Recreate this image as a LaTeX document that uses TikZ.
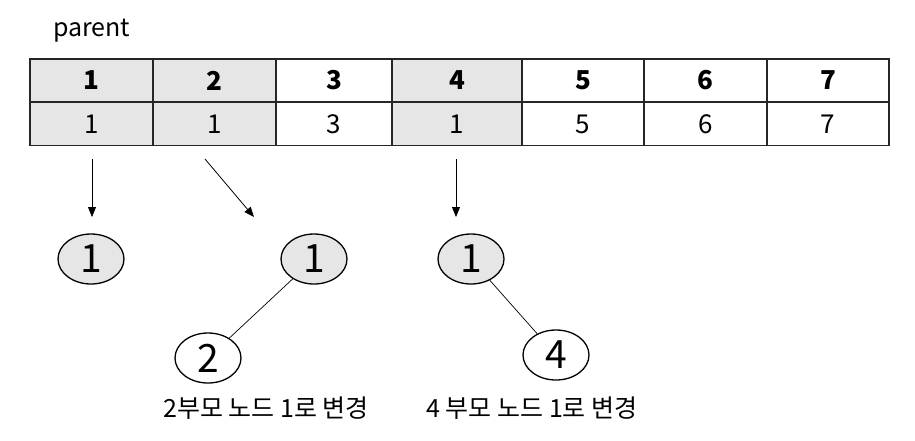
\documentclass[tikz,border=0pt]{standalone}
\usepackage{fontspec}
\setmainfont{Noto Sans CJK KR}
\usetikzlibrary{arrows.meta,shapes.geometric}
\definecolor{cellgray}{HTML}{E6E6E6}
\tikzset{
  cell/.style={draw=black!85, line width=1.3pt, minimum height=43pt, inner sep=0pt, font=\fontsize{26}{30}\selectfont},
  hcell/.style={cell, font=\fontsize{26}{30}\selectfont\bfseries},
  nd/.style={draw=black, line width=1.3pt, ellipse, minimum width=66pt, minimum height=50pt, inner sep=0pt, font=\fontsize{39}{42}\selectfont},
  ptr/.style={line width=0.8pt, -{Triangle[length=10pt,width=8pt]}},
  edge/.style={line width=0.7pt},
  lbl/.style={inner sep=0pt, font=\fontsize{25}{28}\selectfont}
}
\begin{document}
\begin{tikzpicture}[x=1pt,y=-1pt]
\useasboundingbox (0,0) rectangle (915,440);
\node[lbl, anchor=west, font=\fontsize{25}{28}\selectfont] (title) at (53,31) {parent};
% header row
\node[hcell, fill=cellgray, minimum width=123pt] (h1) at (91.5,80.5) {1};
\node[hcell, fill=cellgray, minimum width=123pt] (h2) at (214.5,80.5) {2};
\node[hcell, minimum width=116pt] (h3) at (334,80.5) {3};
\node[hcell, fill=cellgray, minimum width=130pt] (h4) at (457,80.5) {4};
\node[hcell, minimum width=122pt] (h5) at (583,80.5) {5};
\node[hcell, minimum width=123pt] (h6) at (705.5,80.5) {6};
\node[hcell, minimum width=122pt] (h7) at (828,80.5) {7};
% value row
\node[cell, fill=cellgray, minimum width=123pt] (v1) at (91.5,124) {1};
\node[cell, fill=cellgray, minimum width=123pt] (v2) at (214.5,124) {1};
\node[cell, minimum width=116pt] (v3) at (334,124) {3};
\node[cell, fill=cellgray, minimum width=130pt] (v4) at (457,124) {1};
\node[cell, minimum width=122pt] (v5) at (583,124) {5};
\node[cell, minimum width=123pt] (v6) at (705.5,124) {6};
\node[cell, minimum width=122pt] (v7) at (828,124) {7};
% arrows
\coordinate (a1s) at (92,159); \coordinate (a1e) at (92,217);
\coordinate (a2s) at (205,159); \coordinate (a2e) at (254,217);
\coordinate (a3s) at (456,159); \coordinate (a3e) at (456,217);
\draw[ptr] (a1s) -- (a1e);
\draw[ptr] (a2s) -- (a2e);
\draw[ptr] (a3s) -- (a3e);
% trees
\node[nd, fill=cellgray] (n1a) at (91,259) {1};
\node[nd, fill=cellgray] (n1b) at (314,259) {1};
\node[nd] (n2) at (208,358) {2};
\node[nd, fill=cellgray] (n1c) at (471,259) {1};
\node[nd] (n4) at (556,355) {4};
\draw[edge] (n1b) -- (n2);
\draw[edge] (n1c) -- (n4);
\node[lbl] (l1) at (266,408) {2부모 노드 1로 변경};
\node[lbl] (l2) at (532,408) {4 부모 노드 1로 변경};
\end{tikzpicture}
\end{document}
